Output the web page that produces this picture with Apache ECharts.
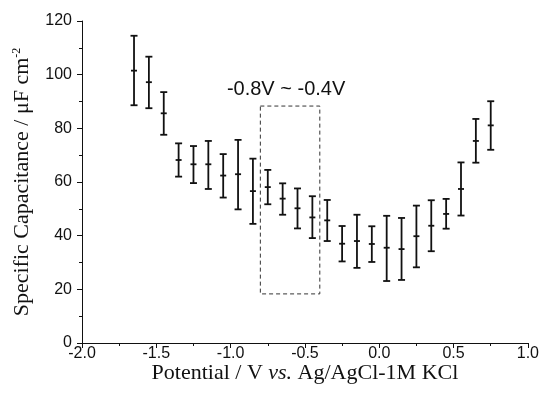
<!DOCTYPE html>
<html>
<head>
<meta charset="utf-8">
<script src="https://cdn.jsdelivr.net/npm/echarts@6/dist/echarts.min.js"></script>
<style>
  html, body { margin: 0; padding: 0; background: #fff; }
  #chart { width: 542px; height: 403px; }
</style>
</head>
<body>
<div id="chart"></div>
<script>
// potential (V vs Ag/AgCl) and capacitance with error bars
const potentials = [-1.65, -1.55, -1.45, -1.35, -1.25, -1.15, -1.05, -0.95, -0.85, -0.75, -0.65, -0.55, -0.45,
  -0.35, -0.25, -0.15, -0.05, 0.05, 0.15, 0.25, 0.35, 0.45, 0.55, 0.65, 0.75];
const means = [101.5, 97.2, 85.6, 68.2, 66.6, 66.6, 62.4, 62.9, 56.6, 58.1, 53.8, 50.2, 46.8,
  45.7, 37.0, 38.0, 36.9, 35.5, 35.0, 39.8, 43.7, 48.1, 57.4, 75.3, 81.1];
const upper = [114.5, 106.7, 93.5, 74.4, 73.4, 75.3, 70.4, 75.7, 68.7, 64.5, 59.5, 57.6, 54.7,
  53.3, 43.6, 47.8, 43.5, 47.4, 46.6, 51.2, 53.2, 53.7, 67.3, 83.5, 90.1];
const lower = [88.6, 87.5, 77.6, 62.0, 59.6, 57.4, 54.2, 49.8, 44.4, 51.7, 47.8, 42.7, 39.1,
  38.0, 30.4, 28.0, 30.2, 23.1, 23.5, 28.2, 34.2, 42.6, 47.5, 67.2, 72.0];

// highlighted window
const windowX = [-0.8, -0.4];
const windowY = [18.3, 88.3];
const windowLabel = "-0.8V ~ -0.4V";

const ink = "#111";
const tickFont = "'Liberation Sans', Arial, sans-serif";
const titleFont = "'Liberation Serif', 'Times New Roman', serif";

const chart = echarts.init(document.getElementById("chart"), null, { renderer: "canvas" });

const barData = potentials.map((x, i) => [x, means[i], lower[i], upper[i]]);

function renderErrorBar(params, api) {
  const x = api.value(0);
  const mid = api.coord([x, api.value(1)]);
  const lo = api.coord([x, api.value(2)]);
  const hi = api.coord([x, api.value(3)]);
  const cap = 3.5;
  const tick = 3;
  const style = { stroke: ink, lineWidth: 1.8 };
  return {
    type: "group",
    children: [
      { type: "line", shape: { x1: lo[0], y1: lo[1], x2: hi[0], y2: hi[1] }, style },
      { type: "line", shape: { x1: hi[0] - cap, y1: hi[1], x2: hi[0] + cap, y2: hi[1] }, style },
      { type: "line", shape: { x1: lo[0] - cap, y1: lo[1], x2: lo[0] + cap, y2: lo[1] }, style },
      { type: "line", shape: { x1: mid[0] - tick, y1: mid[1], x2: mid[0] + tick, y2: mid[1] }, style },
    ],
  };
}

chart.setOption({
  animation: false,
  backgroundColor: "#fff",
  grid: { left: 82, right: 14, top: 21, bottom: 60 },
  xAxis: {
    type: "value",
    min: -2,
    max: 1,
    interval: 0.5,
    name: "{n|Potential / V }{i|vs.}{n| Ag/AgCl-1M KCl}",
    nameLocation: "middle",
    nameGap: 19,
    nameMoveOverlap: false,
    nameTextStyle: {
      rich: {
        n: { fontFamily: titleFont, fontSize: 22, color: ink },
        i: { fontFamily: titleFont, fontSize: 22, color: ink, fontStyle: "italic" },
      },
    },
    axisLine: { onZero: false, lineStyle: { color: ink, width: 1 } },
    axisTick: { length: 5, lineStyle: { color: ink } },
    minorTick: { show: true, splitNumber: 2, length: 3, lineStyle: { color: ink } },
    splitLine: { show: false },
    axisLabel: {
      margin: 3,
      color: ink,
      fontFamily: tickFont,
      fontSize: 16,
      formatter: (v) => v.toFixed(1),
    },
  },
  yAxis: {
    type: "value",
    min: 0,
    max: 120,
    interval: 20,
    name: "{n|Specific Capacitance / μF cm}{s|-2}",
    nameLocation: "middle",
    nameGap: 49,
    nameMoveOverlap: false,
    nameTextStyle: {
      rich: {
        n: { fontFamily: titleFont, fontSize: 22, color: ink },
        s: { fontFamily: titleFont, fontSize: 12, color: ink, verticalAlign: "top", padding: [0, 0, 9, 0] },
      },
    },
    axisLine: { show: true, onZero: false, lineStyle: { color: ink, width: 1 } },
    axisTick: { show: true, length: 5, lineStyle: { color: ink } },
    minorTick: { show: true, splitNumber: 2, length: 3, lineStyle: { color: ink } },
    splitLine: { show: false },
    axisLabel: { margin: 10, color: ink, fontFamily: tickFont, fontSize: 16 },
  },
  series: [
    {
      name: "capacitance",
      type: "custom",
      renderItem: renderErrorBar,
      encode: { x: 0, y: [1, 2, 3] },
      data: barData,
      z: 3,
      markArea: {
        silent: true,
        itemStyle: { color: "rgba(0,0,0,0)", borderColor: "#333", borderWidth: 1, borderType: [4, 3] },
        label: {
          show: true,
          position: "top",
          distance: 6,
          offset: [-4, 0],
          color: ink,
          fontFamily: tickFont,
          fontSize: 20,
        },
        data: [[
          { name: windowLabel, coord: [windowX[0], windowY[1]] },
          { coord: [windowX[1], windowY[0]] },
        ]],
      },
    },
  ],
});
</script>
</body>
</html>
